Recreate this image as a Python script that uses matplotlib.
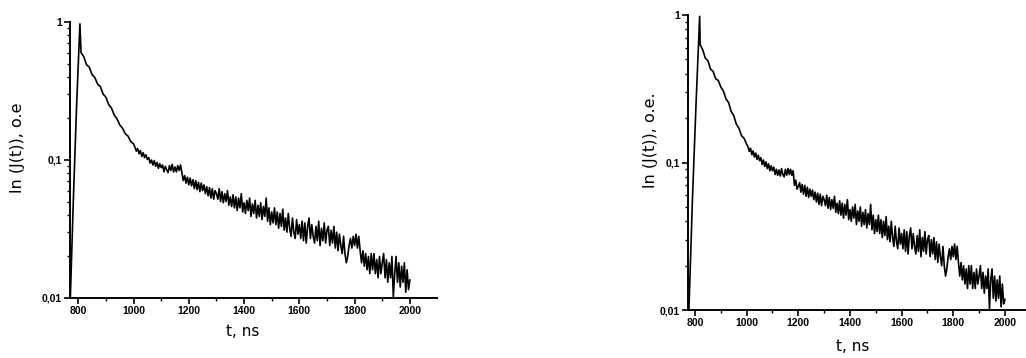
import numpy as np
import matplotlib
matplotlib.use("Agg")
import matplotlib.pyplot as plt
from matplotlib.ticker import FixedLocator, FuncFormatter, LogLocator, NullFormatter

# ---- left curve ----
rise_t_a = [771, 782, 794, 806]
rise_v_a = [0.0095, 0.05, 0.25, 0.97]
t_a_early = np.arange(810, 1001, 10)
v_a_early = [0.60, 0.56, 0.49, 0.47, 0.415, 0.395, 0.355, 0.34, 0.30, 0.285,
             0.252, 0.238, 0.212, 0.199, 0.180, 0.170, 0.155, 0.149, 0.136, 0.131]
t_a_late = np.arange(1005, 2001, 5)
v_a_late = [0.124, 0.116, 0.121, 0.111, 0.117, 0.106, 0.113, 0.104, 0.109, 0.101,
            0.104, 0.095, 0.100, 0.092, 0.099, 0.090, 0.096, 0.087, 0.094, 0.088,
            0.092, 0.082, 0.090, 0.085, 0.081, 0.091, 0.084, 0.093, 0.082, 0.089,
            0.082, 0.091, 0.084, 0.092, 0.081, 0.071, 0.077, 0.068, 0.075, 0.066,
            0.074, 0.065, 0.072, 0.062, 0.071, 0.061, 0.069, 0.059, 0.068, 0.060,
            0.066, 0.057, 0.064, 0.055, 0.063, 0.053, 0.062, 0.052, 0.060, 0.057,
            0.052, 0.062, 0.050, 0.059, 0.049, 0.057, 0.050, 0.060, 0.047, 0.054,
            0.046, 0.056, 0.045, 0.054, 0.043, 0.053, 0.045, 0.057, 0.042, 0.049,
            0.041, 0.051, 0.043, 0.053, 0.039, 0.048, 0.041, 0.051, 0.038, 0.047,
            0.039, 0.049, 0.037, 0.046, 0.039, 0.053, 0.036, 0.045, 0.034, 0.042,
            0.035, 0.045, 0.034, 0.042, 0.032, 0.041, 0.033, 0.044, 0.031, 0.038,
            0.030, 0.041, 0.032, 0.028, 0.038, 0.030, 0.027, 0.037, 0.029, 0.034,
            0.027, 0.036, 0.026, 0.035, 0.025, 0.033, 0.038, 0.027, 0.034, 0.028,
            0.025, 0.033, 0.026, 0.036, 0.024, 0.032, 0.026, 0.035, 0.025, 0.031,
            0.033, 0.024, 0.031, 0.025, 0.033, 0.023, 0.030, 0.022, 0.029, 0.024,
            0.021, 0.028, 0.021, 0.018, 0.020, 0.024, 0.027, 0.023, 0.028, 0.024,
            0.029, 0.023, 0.028, 0.022, 0.018, 0.022, 0.017, 0.021, 0.016, 0.020,
            0.015, 0.021, 0.016, 0.021, 0.015, 0.019, 0.014, 0.020, 0.015, 0.018,
            0.021, 0.014, 0.019, 0.013, 0.018, 0.014, 0.020, 0.0102, 0.015, 0.020,
            0.013, 0.018, 0.012, 0.017, 0.013, 0.018, 0.011, 0.016, 0.0115, 0.0135]

# ---- right curve ----
rise_t_b = [776, 790, 804, 818]
rise_v_b = [0.0095, 0.056, 0.25, 0.98]
t_b_early = np.arange(820, 1001, 10)
v_b_early = [0.63, 0.58, 0.51, 0.49, 0.43, 0.415, 0.37, 0.36, 0.325,
             0.305, 0.27, 0.255, 0.222, 0.208, 0.182, 0.171, 0.152, 0.146, 0.133]
t_b_late = np.arange(1005, 2001, 5)
v_b_late = [0.128, 0.119, 0.125, 0.113, 0.120, 0.109, 0.116, 0.105, 0.112, 0.103,
            0.108, 0.097, 0.104, 0.094, 0.101, 0.091, 0.098, 0.088, 0.095, 0.088,
            0.093, 0.083, 0.090, 0.082, 0.089, 0.081, 0.091, 0.083, 0.080, 0.090,
            0.082, 0.091, 0.083, 0.090, 0.082, 0.088, 0.070, 0.076, 0.066, 0.069,
            0.073, 0.063, 0.071, 0.061, 0.070, 0.059, 0.068, 0.058, 0.066, 0.059,
            0.065, 0.056, 0.063, 0.054, 0.062, 0.052, 0.061, 0.051, 0.059, 0.056,
            0.051, 0.060, 0.049, 0.058, 0.048, 0.056, 0.049, 0.059, 0.046, 0.053,
            0.045, 0.055, 0.044, 0.053, 0.042, 0.052, 0.044, 0.056, 0.041, 0.048,
            0.040, 0.050, 0.042, 0.052, 0.038, 0.047, 0.040, 0.050, 0.037, 0.046,
            0.038, 0.048, 0.036, 0.045, 0.038, 0.052, 0.035, 0.044, 0.033, 0.041,
            0.034, 0.044, 0.033, 0.041, 0.031, 0.040, 0.032, 0.043, 0.030, 0.037,
            0.029, 0.040, 0.031, 0.027, 0.037, 0.029, 0.026, 0.036, 0.028, 0.033,
            0.026, 0.035, 0.025, 0.034, 0.024, 0.032, 0.036, 0.026, 0.033, 0.027,
            0.024, 0.032, 0.025, 0.035, 0.023, 0.031, 0.025, 0.034, 0.024, 0.030,
            0.032, 0.023, 0.030, 0.024, 0.031, 0.022, 0.029, 0.021, 0.028, 0.023,
            0.020, 0.027, 0.020, 0.017, 0.019, 0.023, 0.026, 0.022, 0.027, 0.023,
            0.028, 0.022, 0.027, 0.021, 0.017, 0.021, 0.016, 0.020, 0.015, 0.019,
            0.014, 0.020, 0.015, 0.020, 0.014, 0.018, 0.014, 0.019, 0.015, 0.017,
            0.020, 0.014, 0.018, 0.013, 0.017, 0.014, 0.019, 0.0101, 0.016, 0.019,
            0.012, 0.017, 0.0115, 0.016, 0.012, 0.017, 0.0105, 0.015, 0.011, 0.0118]

x_ticks = [800, 1000, 1200, 1400, 1600, 1800, 2000]
x_minor = [900, 1100, 1300, 1500, 1700, 1900]
y_ticks = [0.01, 0.1, 1]
y_labels = {0.01: "0,01", 0.1: "0,1", 1: "1"}

fig = plt.figure(figsize=(10.26, 3.58), dpi=100)

panels = [
    dict(rect=[0.0682, 0.1676, 0.3577, 0.771], xlim=(770, 2098),
         ylabel="ln (J(t)), o.e", xlp=(0.471, -0.095), ylp=(-0.123, 0.543),
         t=[rise_t_a, t_a_early, t_a_late], v=[rise_v_a, v_a_early, v_a_late]),
    dict(rect=[0.6706, 0.134, 0.3333, 0.824], xlim=(773, 2097),
         ylabel="ln (J(t)), o.e.", xlp=(0.482, -0.097), ylp=(-0.088, 0.576),
         t=[rise_t_b, t_b_early, t_b_late], v=[rise_v_b, v_b_early, v_b_late]),
]

for p in panels:
    ax = fig.add_axes(p["rect"])
    tt = np.concatenate(p["t"])
    vv = np.concatenate(p["v"])
    ax.plot(tt, vv, color="black", lw=1.2)
    ax.set_yscale("log")
    ax.set_ylim(0.01, 1)
    ax.set_xlim(*p["xlim"])
    for s in ["top", "right"]:
        ax.spines[s].set_visible(False)
    for s in ["left", "bottom"]:
        ax.spines[s].set_linewidth(1.4)
    ax.xaxis.set_major_locator(FixedLocator(x_ticks))
    ax.xaxis.set_minor_locator(FixedLocator(x_minor))
    ax.yaxis.set_major_locator(FixedLocator(y_ticks))
    ax.yaxis.set_major_formatter(FuncFormatter(lambda y, pos: y_labels.get(round(y, 3), "")))
    ax.yaxis.set_minor_locator(LogLocator(base=10, subs=np.arange(2, 10)))
    ax.yaxis.set_minor_formatter(NullFormatter())
    ax.tick_params(which="major", direction="out", length=4, width=1.2, pad=2,
                   labelsize=7.5)
    ax.tick_params(which="minor", direction="out", length=2.5, width=1.0)
    for lab in ax.get_xticklabels() + ax.get_yticklabels():
        lab.set_fontfamily("Liberation Sans")
        lab.set_fontweight("bold")
    ax.set_xlabel("t, ns", fontsize=11, family="DejaVu Sans")
    ax.set_ylabel(p["ylabel"], fontsize=11.5, family="DejaVu Sans")
    ax.xaxis.set_label_coords(*p["xlp"])
    ax.yaxis.set_label_coords(*p["ylp"])

fig.savefig("out.png", dpi=100)
